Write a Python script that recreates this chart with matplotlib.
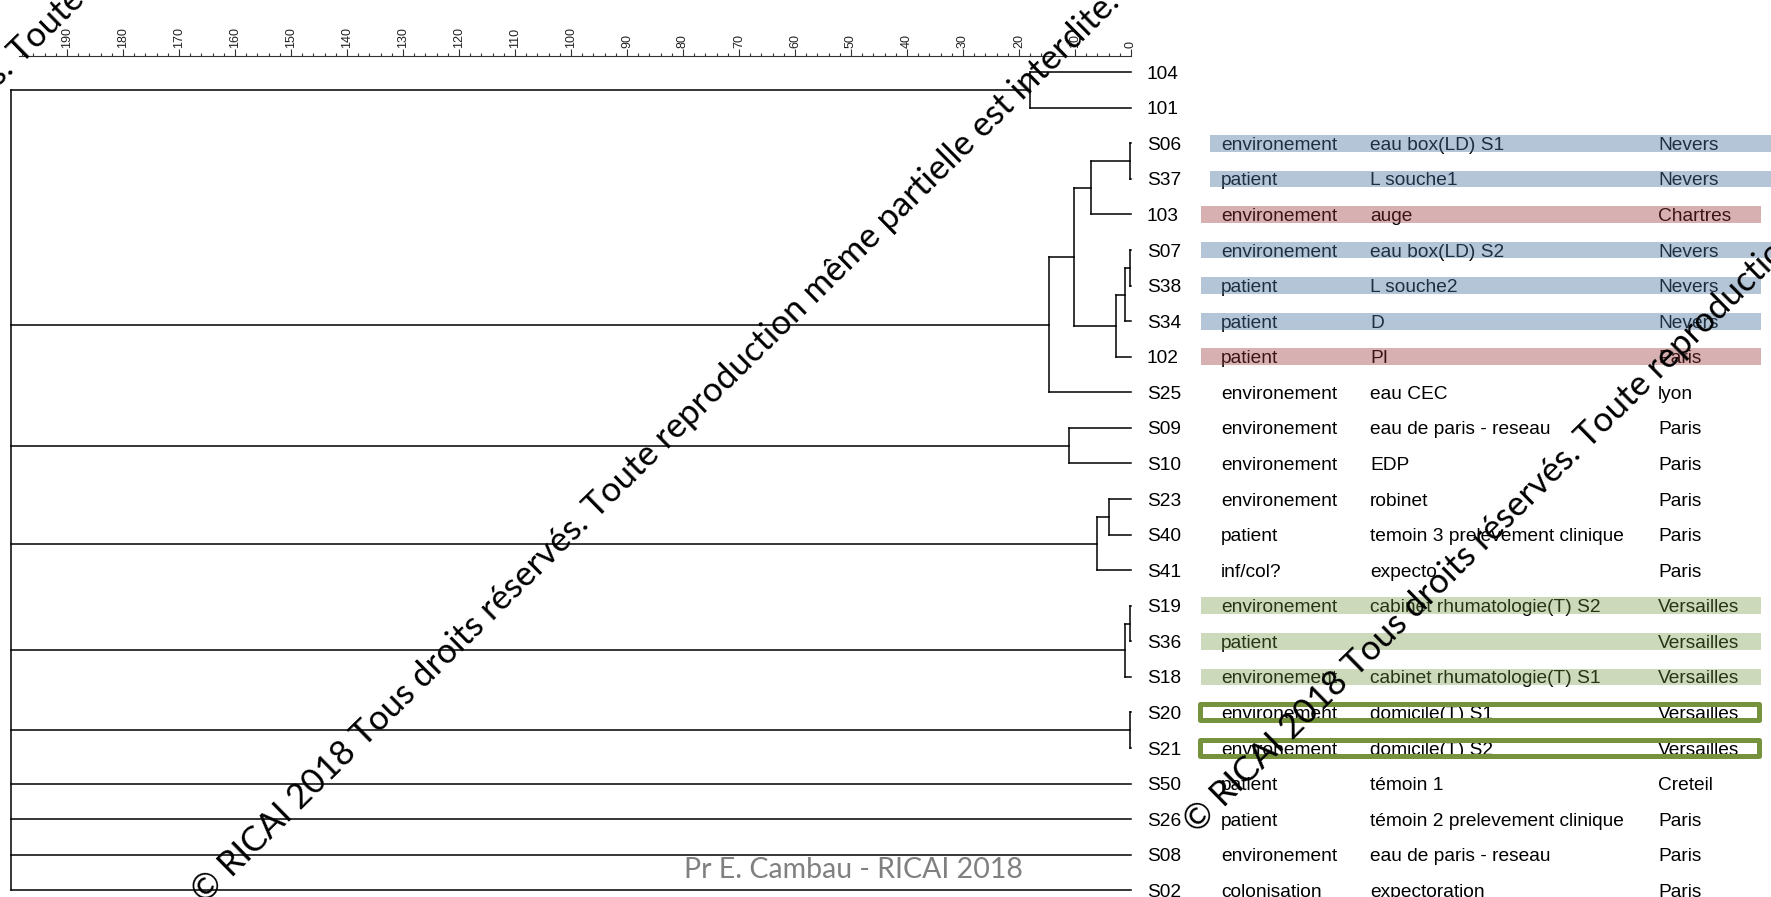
import matplotlib.pyplot as plt
from matplotlib.patches import Rectangle

plt.rcParams['font.family'] = ['Liberation Sans', 'DejaVu Sans']

# souches, dans l'ordre du dendrogramme (de haut en bas)
leaves = ['104', '101', 'S06', 'S37', '103', 'S07', 'S38', 'S34', '102', 'S25',
          'S09', 'S10', 'S23', 'S40', 'S41', 'S19', 'S36', 'S18', 'S20', 'S21',
          'S50', 'S26', 'S08', 'S02']

# noeuds : (enfants, hauteur) ; enfant = nom de souche ou numero d'un noeud precedent
nodes = [
    (['104', '101'], 18.0),        # 0
    (['S06', 'S37'], 0.2),         # 1
    ([1, '103'], 7.1),             # 2
    (['S07', 'S38'], 0.2),         # 3
    ([3, 'S34'], 1.1),             # 4
    ([4, '102'], 2.7),             # 5
    ([2, 5], 10.2),                # 6
    ([6, 'S25'], 14.6),            # 7
    (['S09', 'S10'], 11.1),        # 8
    (['S23', 'S40'], 4.0),         # 9
    ([9, 'S41'], 6.1),             # 10
    (['S19', 'S36'], 0.1),         # 11
    ([11, 'S18'], 1.1),            # 12
    (['S20', 'S21'], 0.2),         # 13
    ([0, 7, 8, 10, 12, 13, 'S50', 'S26', 'S08', 'S02'], 200.0),  # racine
]

types = ['', '', 'environement', 'patient', 'environement', 'environement', 'patient',
         'patient', 'patient', 'environement', 'environement', 'environement',
         'environement', 'patient', 'inf/col?', 'environement', 'patient',
         'environement', 'environement', 'environement', 'patient', 'patient',
         'environement', 'colonisation']

samples = ['', '', 'eau box(LD) S1', 'L souche1', 'auge', 'eau box(LD) S2', 'L souche2',
           'D', 'PI', 'eau CEC', 'eau de paris - reseau', 'EDP', 'robinet',
           'temoin 3 prelevement clinique', 'expecto', 'cabinet rhumatologie(T) S2', '',
           'cabinet rhumatologie(T) S1', 'domicile(T) S1', 'domicile(T) S2', 'témoin 1',
           'témoin 2 prelevement clinique', 'eau de paris - reseau', 'expectoration']

cities = ['', '', 'Nevers', 'Nevers', 'Chartres', 'Nevers', 'Nevers', 'Nevers', 'Paris',
          'lyon', 'Paris', 'Paris', 'Paris', 'Paris', 'Paris', 'Versailles', 'Versailles',
          'Versailles', 'Versailles', 'Versailles', 'Creteil', 'Paris', 'Paris', 'Paris']

groups = ['', '', 'blue', 'blue', 'red', 'blue', 'blue', 'blue', 'red', '', '', '', '',
          '', '', 'green', 'green', 'green', 'box', 'box', '', '', '', '']

ruler_major = list(range(0, 200, 10))
ruler_minor = list(range(0, 199, 2))

# couleurs des bandes (posees par-dessus le texte, en transparence)
band = {'blue': ((73/255, 115/255, 161/255), 0.41),
        'red': ((154/255, 56/255, 56/255), 0.39),
        'green': ((113/255, 150/255, 60/255), 0.353)}

W, H = 1771, 897
fig = plt.figure(figsize=(W / 100, H / 100), dpi=100)

# echelle : 0 a x=1131 px, 5.6 px par unite ; lignes toutes les 35.57 px a partir de 72.2 px
x0, ppu = 1131, 5.6
y0, dy = 72.2, 35.57
xlim = (x0 / ppu, (x0 - W) / ppu)
ylim = ((H - y0) / dy, -y0 / dy)

ax = fig.add_axes([0, 0, 1, 1])
ax.set_xlim(xlim)
ax.set_ylim(ylim)
ax.axis('off')

lw = 1.1
pos_y = {name: i for i, name in enumerate(leaves)}
pos_x = {name: 0.0 for name in leaves}
for k, (kids, h) in enumerate(nodes):
    ys = [pos_y[c] for c in kids]
    for c in kids:
        ax.plot([pos_x[c], h], [pos_y[c], pos_y[c]], color='black', lw=lw,
                solid_capstyle='projecting')
    ax.plot([h, h], [min(ys), max(ys)], color='black', lw=lw, solid_capstyle='projecting')
    pos_y[k] = (ys[0] + ys[-1]) / 2
    pos_x[k] = h

# regle en haut
ax_r = fig.add_axes([0, 1 - 55.7 / H - 0.01, 1, 0.01])
ax_r.set_xlim(xlim)
ax_r.patch.set_visible(False)
for s in ['left', 'right', 'bottom']:
    ax_r.spines[s].set_visible(False)
ax_r.spines['top'].set_bounds(198.5, 0)
ax_r.spines['top'].set_linewidth(0.8)
ax_r.spines['top'].set_color('#333333')
ax_r.set_yticks([])
ax_r.xaxis.tick_top()
ax_r.set_xticks(ruler_major)
ax_r.set_xticks(ruler_minor, minor=True)
ax_r.set_xticklabels([str(v) for v in ruler_major])
ax_r.tick_params(axis='x', which='major', length=5.3, width=0.8, pad=0.3,
                 labelsize=9, labelrotation=90, color='#333333', labelcolor='#222222')
ax_r.tick_params(axis='x', which='minor', length=2.4, width=0.8, color='#333333')

# tableau a droite
ax_t = fig.add_axes([x0 / W, 0, (W - x0) / W, 1])
ax_t.set_xlim(0, W - x0)
ax_t.set_ylim(ylim)
ax_t.axis('off')

fs = 13.8
for i, name in enumerate(leaves):
    ax_t.text(16, i, name, fontsize=fs, va='center_baseline', ha='left')
    ax_t.text(90, i, types[i], fontsize=fs, va='center_baseline', ha='left')
    ax_t.text(239, i, samples[i], fontsize=fs, va='center_baseline', ha='left')
    ax_t.text(527, i, cities[i], fontsize=fs, va='center_baseline', ha='left')

    g = groups[i]
    if g in band:
        col, a = band[g]
        left = 79 if name in ('S06', 'S37') else 69.5
        right = W - x0 + 5 if name in ('S06', 'S37', 'S07') else 630
        ax_t.barh(i, right - left, left=left, height=0.47, color=col, alpha=a,
                  zorder=3, linewidth=0)
    elif g == 'box':
        ax_t.add_patch(Rectangle((69, i - 0.225), 558.5, 0.45, fill=False,
                                 edgecolor='#76923C', lw=3.6, joinstyle='round',
                                 zorder=4))

# mentions
fig.text(853 / W, 1 - 870 / H, 'Pr E. Cambau - RICAI 2018', ha='center', va='center',
         color='#808080', fontsize=20.5, family='Lato')

wm = '© RICAI 2018 Tous droits réservés. Toute reproduction même partielle est interdite.'
for px, py in [(205, 905), (1197, 835), (-370, 450)]:
    fig.text(px / W, 1 - py / H, wm, rotation=44.5, rotation_mode='anchor', ha='left',
             va='baseline', fontsize=25, family='Lato', color='black', zorder=5)

fig.savefig('out.png', dpi=100)
